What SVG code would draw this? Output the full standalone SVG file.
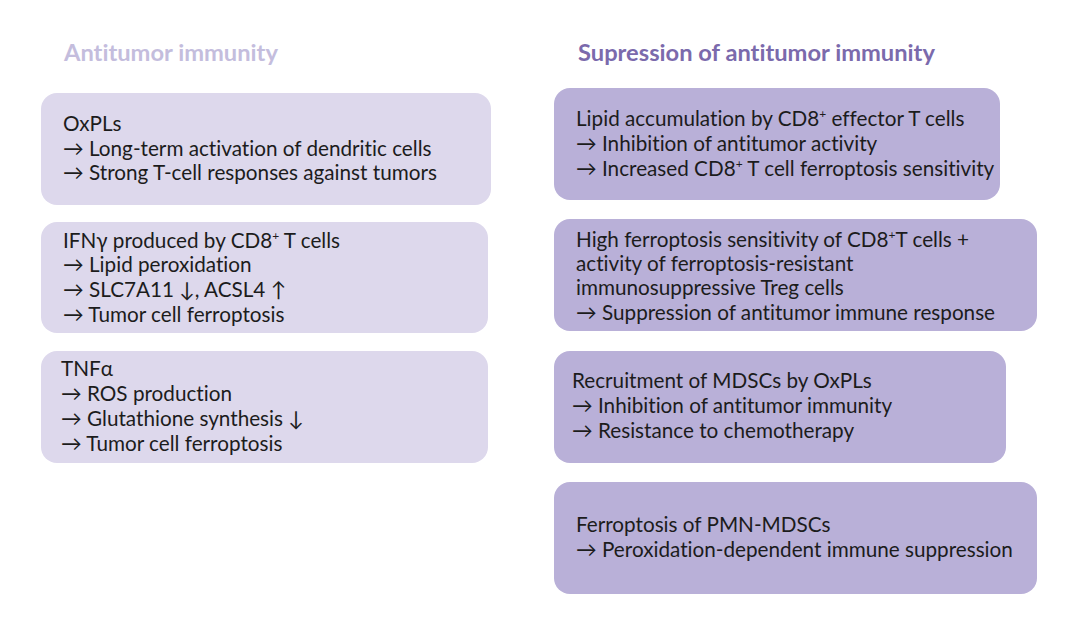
<svg xmlns="http://www.w3.org/2000/svg" width="1080" height="636" viewBox="0 0 1080 636">
<style>
.t{font-family:Lato,"Open Sans","Liberation Sans",sans-serif;font-size:20.7px;fill:#1c1c1c;font-variant-ligatures:none}
.h{font-family:Lato,"Open Sans","Liberation Sans",sans-serif;font-size:23.7px;font-weight:bold;font-variant-ligatures:none}
.l{fill:#ddd8ec}
.r{fill:#b9b0d8}
.s{font-size:12px}
</style>
<rect width="1080" height="636" fill="#ffffff"/>
<text class="h" x="64" y="61" fill="#c4bddd">Antitumor immunity</text>
<text class="h" x="578" y="61" fill="#7b6aac">Supression of antitumor immunity</text>
<g id="n1">
<rect class="l" x="41" y="93" width="450" height="112" rx="16"/>
<text class="t" x="63" y="131">OxPLs</text>
<text class="t" x="63" y="156">→ Long-term activation of dendritic cells</text>
<text class="t" x="63" y="180">→ Strong T-cell responses against tumors</text>
</g>
<g id="n2">
<rect class="l" x="41" y="222" width="447" height="111" rx="16"/>
<text class="t" x="63" y="248">IFNγ produced by CD8<tspan class="s" dy="-8">+</tspan><tspan dy="8"> T cells</tspan></text>
<text class="t" x="63" y="272">→ Lipid peroxidation</text>
<text class="t" x="63" y="297">→ SLC7A11 ↓, ACSL4 ↑</text>
<text class="t" x="63" y="322">→ Tumor cell ferroptosis</text>
</g>
<g id="n3">
<rect class="l" x="41" y="351" width="447" height="112" rx="16"/>
<text class="t" x="61" y="376">TNFα</text>
<text class="t" x="61" y="401">→ ROS production</text>
<text class="t" x="61" y="426">→ Glutathione synthesis ↓</text>
<text class="t" x="61" y="451">→ Tumor cell ferroptosis</text>
</g>
<g id="n4">
<rect class="r" x="554" y="88" width="446" height="112" rx="16"/>
<text class="t" x="576" y="126">Lipid accumulation by CD8<tspan class="s" dy="-8">+</tspan><tspan dy="8"> effector T cells</tspan></text>
<text class="t" x="576" y="151">→ Inhibition of antitumor activity</text>
<text class="t" x="576" y="176">→ Increased CD8<tspan class="s" dy="-8">+</tspan><tspan dy="8"> T cell ferroptosis sensitivity</tspan></text>
</g>
<g id="n5">
<rect class="r" x="554" y="219" width="483" height="112" rx="16"/>
<text class="t" x="576" y="247">High ferroptosis sensitivity of CD8<tspan class="s" dy="-8">+</tspan><tspan dy="8">T cells +</tspan></text>
<text class="t" x="576" y="271">activity of ferroptosis-resistant</text>
<text class="t" x="576" y="295">immunosuppressive Treg cells</text>
<text class="t" x="576" y="320">→ Suppression of antitumor immune response</text>
</g>
<g id="n6">
<rect class="r" x="554" y="351" width="452" height="112" rx="16"/>
<text class="t" x="572" y="388">Recruitment of MDSCs by OxPLs</text>
<text class="t" x="572" y="413">→ Inhibition of antitumor immunity</text>
<text class="t" x="572" y="438">→ Resistance to chemotherapy</text>
</g>
<g id="n7">
<rect class="r" x="554" y="482" width="483" height="112" rx="16"/>
<text class="t" x="576" y="532">Ferroptosis of PMN-MDSCs</text>
<text class="t" x="576" y="557">→ Peroxidation-dependent immune suppression</text>
</g>
<g id="connectors"></g>
</svg>
